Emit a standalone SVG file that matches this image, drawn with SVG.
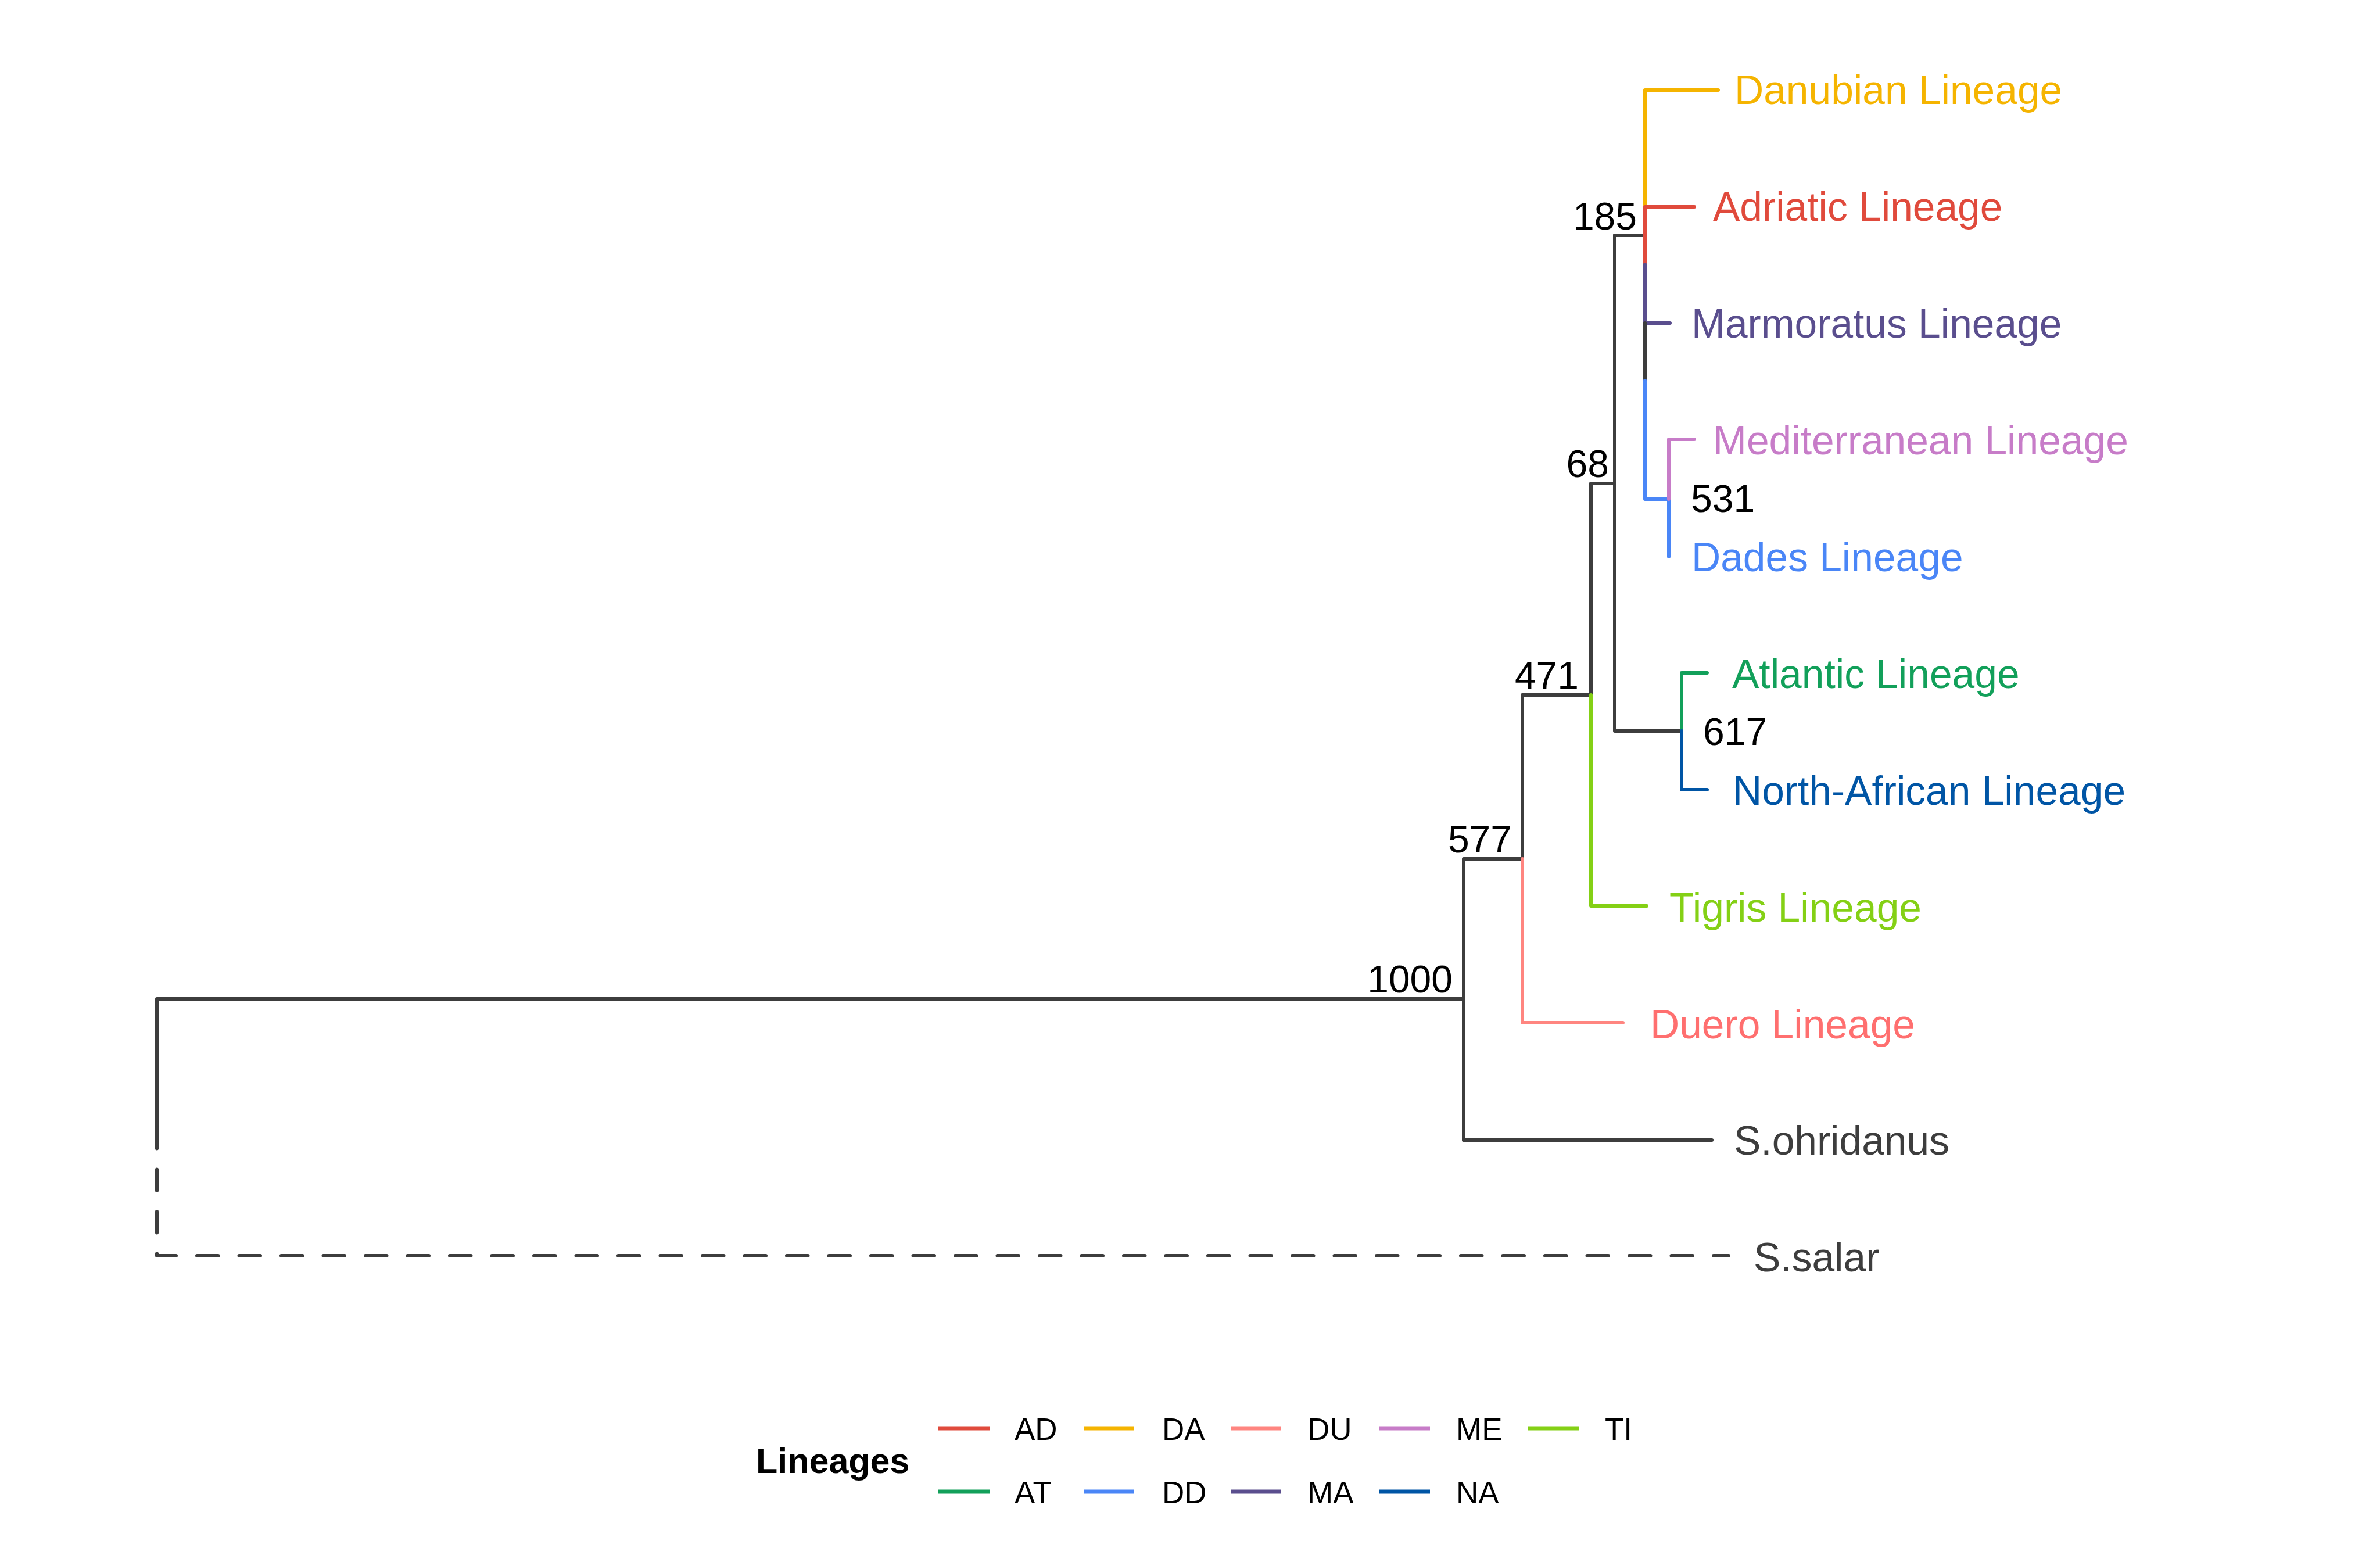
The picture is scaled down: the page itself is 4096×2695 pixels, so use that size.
<svg xmlns="http://www.w3.org/2000/svg" width="4096" height="2695" viewBox="0 0 4096 2695">
<style>
.b{fill:none;stroke-width:6;stroke-linecap:round;stroke-linejoin:round}
.k{stroke:#3d3d3d}
.tip{font-family:"Liberation Sans",Arial,sans-serif;font-size:69.5px}
.nl{font-family:"Liberation Sans",Arial,sans-serif;font-size:66px;fill:#000}
.lg{font-family:"Liberation Sans",Arial,sans-serif;font-size:53px;fill:#000}
.key{stroke-width:6.8;fill:none}
</style>
<rect width="4096" height="2695" fill="#fff"/>
<g id="connectors">
<path class="b k" d="M270 1940 V1719 H2519"/>
<path class="b k" d="M270 1940 V2161 H2975" stroke-dasharray="36.5 36"/>
<path class="b k" d="M2519 1962 V1478 H2620 V1196 H2738 V832 H2779 V1258 H2894"/>
<path class="b k" d="M2779 405 V832"/>
<path class="b k" d="M2519 1962 H2946"/>
<path class="b k" d="M2779 405 H2831"/>
<path class="b" stroke="#ff8580" d="M2620 1478 V1760 H2793"/>
<path class="b" stroke="#84d015" d="M2738 1196 V1559 H2834"/>
<path class="b" stroke="#12a05a" d="M2894 1258 V1158 H2938"/>
<path class="b" stroke="#0055a5" d="M2894 1258 V1359 H2938"/>
<path class="b" stroke="#f5b400" d="M2831 356 V155 H2957"/>
<path class="b" stroke="#e04a3c" d="M2831 455 V356 H2916"/>
<path class="b" stroke="#5a4e8e" d="M2831 455 V556 H2874"/>
<path class="b k" d="M2831 556 V655"/>
<path class="b" stroke="#4a86f7" d="M2831 655 V859 H2872 V958"/>
<path class="b" stroke="#c77cc8" d="M2872 859 V756 H2916"/>
</g>
<g id="tips">
<g id="tip-danubian"><text class="tip" x="2985" y="179" fill="#f5b400">Danubian Lineage</text></g>
<g id="tip-adriatic"><text class="tip" x="2948" y="380" fill="#e04a3c">Adriatic Lineage</text></g>
<g id="tip-marmoratus"><text class="tip" x="2911" y="581" fill="#5a4e8e">Marmoratus Lineage</text></g>
<g id="tip-mediterranean"><text class="tip" x="2948" y="782" fill="#c77cc8">Mediterranean Lineage</text></g>
<g id="tip-dades"><text class="tip" x="2911" y="983" fill="#4a86f7">Dades Lineage</text></g>
<g id="tip-atlantic"><text class="tip" x="2981" y="1184" fill="#12a05a">Atlantic Lineage</text></g>
<g id="tip-northafrican"><text class="tip" x="2982" y="1385" fill="#0055a5">North-African Lineage</text></g>
<g id="tip-tigris"><text class="tip" x="2873" y="1586" fill="#84d015">Tigris Lineage</text></g>
<g id="tip-duero"><text class="tip" x="2840" y="1787" fill="#ff6f6f">Duero Lineage</text></g>
<g id="tip-ohridanus"><text class="tip" x="2984" y="1987" fill="#3d3d3d">S.ohridanus</text></g>
<g id="tip-salar"><text class="tip" x="3018" y="2188" fill="#3d3d3d">S.salar</text></g>
</g>
<g id="nodes">
<g id="node-185"><text class="nl" x="2817" y="395" text-anchor="end">185</text></g>
<g id="node-68"><text class="nl" x="2769" y="821" text-anchor="end">68</text></g>
<g id="node-471"><text class="nl" x="2717" y="1185" text-anchor="end">471</text></g>
<g id="node-577"><text class="nl" x="2602" y="1467" text-anchor="end">577</text></g>
<g id="node-1000"><text class="nl" x="2500" y="1708" text-anchor="end">1000</text></g>
<g id="node-531"><text class="nl" x="2910" y="881">531</text></g>
<g id="node-617"><text class="nl" x="2931" y="1282">617</text></g>
</g>
<g id="legend">
<text x="1301" y="2535" font-family="'Liberation Sans',Arial,sans-serif" font-size="61" font-weight="bold" fill="#000">Lineages</text>
<line class="key" stroke="#e04a3c" x1="1615" y1="2458" x2="1703" y2="2458"/>
<text class="lg" x="1746" y="2478">AD</text>
<line class="key" stroke="#f5b400" x1="1865" y1="2458" x2="1952" y2="2458"/>
<text class="lg" x="2000" y="2478">DA</text>
<line class="key" stroke="#ff8580" x1="2118" y1="2458" x2="2205" y2="2458"/>
<text class="lg" x="2250" y="2478">DU</text>
<line class="key" stroke="#c77cc8" x1="2374" y1="2458" x2="2461" y2="2458"/>
<text class="lg" x="2506" y="2478">ME</text>
<line class="key" stroke="#84d015" x1="2630" y1="2458" x2="2717" y2="2458"/>
<text class="lg" x="2762" y="2478">TI</text>
<line class="key" stroke="#12a05a" x1="1615" y1="2567" x2="1703" y2="2567"/>
<text class="lg" x="1746" y="2587">AT</text>
<line class="key" stroke="#4a86f7" x1="1865" y1="2567" x2="1952" y2="2567"/>
<text class="lg" x="2000" y="2587">DD</text>
<line class="key" stroke="#5a4e8e" x1="2118" y1="2567" x2="2205" y2="2567"/>
<text class="lg" x="2250" y="2587">MA</text>
<line class="key" stroke="#0055a5" x1="2374" y1="2567" x2="2461" y2="2567"/>
<text class="lg" x="2506" y="2587">NA</text>
</g>
</svg>
